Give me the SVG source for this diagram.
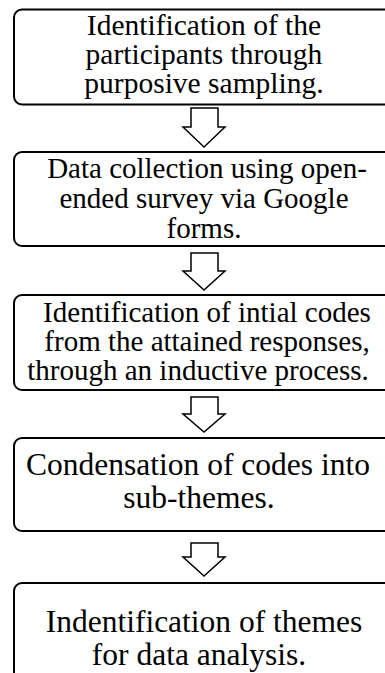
<svg xmlns="http://www.w3.org/2000/svg" width="385" height="673" viewBox="0 0 385 673">
<defs>
<style>
.box{fill:#fff;stroke:#000;stroke-width:2}
.arr{fill:#fff;stroke:#000;stroke-width:1.5;stroke-linejoin:miter}
text{fill:#000;text-anchor:middle;font-family:'Liberation Serif','Times New Roman',serif}
</style>
</defs>
<rect width="385" height="673" fill="#fff"/>
<g id="connectors">
<path class="arr" d="M191,108 H218 V127 H225 L204,147 L183,127 H191 Z"/>
<path class="arr" d="M191,253 H218 V271 H225 L204,290 L183,271 H191 Z"/>
<path class="arr" d="M191,397 H218 V414 H225 L204,432 L183,414 H191 Z"/>
<path class="arr" d="M191,543 H218 V557 H225 L204,576 L183,557 H191 Z"/>
</g>
<g id="node1">
<rect class="box" x="14" y="9.5" width="380" height="95" rx="8"/>
<text font-size="29.5"><tspan x="204" y="35">Identification of the</tspan><tspan x="204" y="64">participants through</tspan><tspan x="204" y="93">purposive sampling.</tspan></text>
</g>
<g id="node2">
<rect class="box" x="14" y="152" width="380" height="94" rx="8"/>
<text font-size="29"><tspan x="207" y="178">Data collection using open-</tspan><tspan x="204" y="208">ended survey via Google</tspan><tspan x="204" y="238">forms.</tspan></text>
</g>
<g id="node3">
<rect class="box" x="14" y="295" width="380" height="95" rx="8"/>
<text font-size="29"><tspan x="207" y="322">Identification of intial codes</tspan><tspan x="207" y="351">from the attained responses,</tspan><tspan x="198" y="380">through an inductive process.</tspan></text>
</g>
<g id="node4">
<rect class="box" x="14" y="438" width="380" height="93" rx="8"/>
<text font-size="31.5"><tspan x="198" y="475">Condensation of codes into</tspan><tspan x="199" y="508">sub-themes.</tspan></text>
</g>
<g id="node5">
<rect class="box" x="14" y="583" width="380" height="110" rx="8"/>
<text font-size="31.5"><tspan x="204" y="632">Indentification of themes</tspan><tspan x="199" y="665">for data analysis.</tspan></text>
</g>
</svg>
